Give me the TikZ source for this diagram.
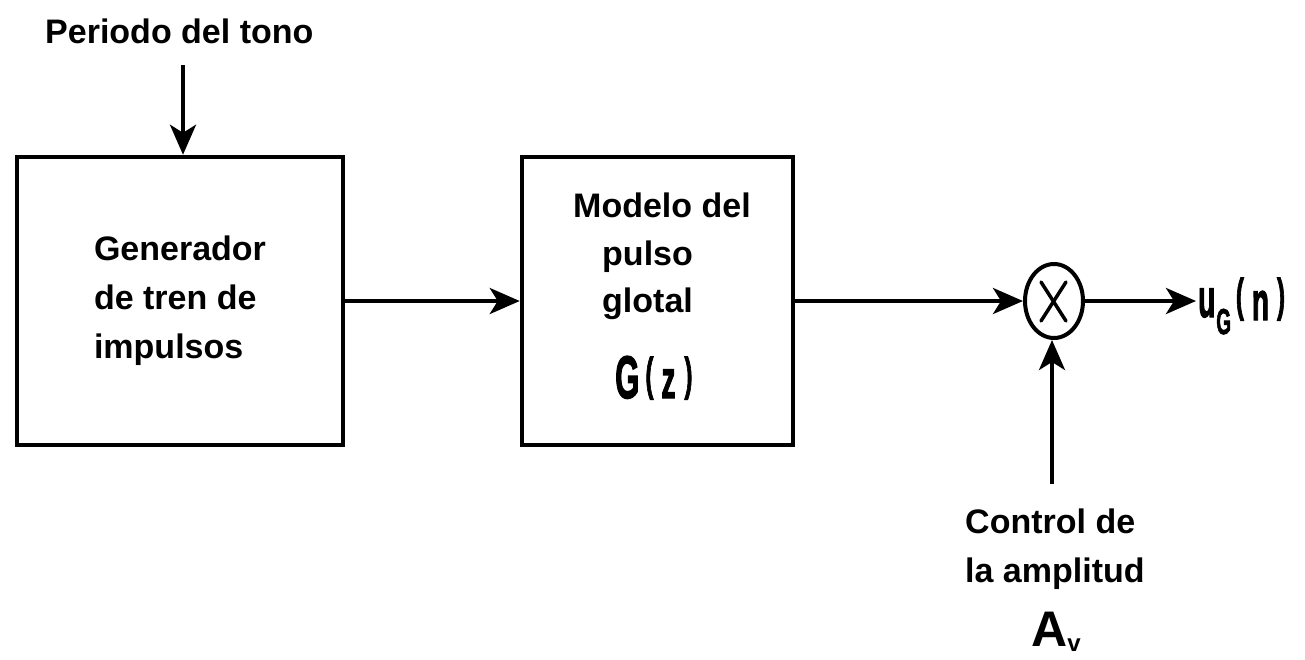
\documentclass[tikz,border=0pt]{standalone}
\usepackage{fontspec}
\setmainfont{Liberation Sans}
\newfontfamily\gzf{Liberation Sans Bold}[FakeBold=2.5]
\usepackage{graphicx}
\usetikzlibrary{arrows.meta,shapes.geometric}
\newcommand{\gx}[2]{\scalebox{0.52}[1]{\fontsize{#1}{#1}\selectfont\gzf #2}}
\begin{document}
\begin{tikzpicture}[x=1pt,y=-1pt,
  blk/.style={draw,line width=4.5pt,rectangle,inner sep=0pt},
  lbl/.style={font=\fontsize{34}{49}\selectfont\bfseries,inner sep=0pt},
  arr/.style={line width=4pt,-{Stealth[length=30pt,width=26pt,inset=8pt]}}]
\path[use as bounding box] (0,0) rectangle (1305,659);

% boxes
\node[blk,minimum width=326pt,minimum height=288pt,lbl,align=left] (box1) at (180,301)
  {Generador\\de tren de\\impulsos};
\node[blk,minimum width=271pt,minimum height=288pt] (box2) at (657.5,301) {};
\node[draw,line width=4pt,ellipse,minimum width=58pt,minimum height=74pt,inner sep=0pt] (mult) at (1054,301) {};
\draw[line width=3.5pt,line cap=round] ([shift={(-13,-19)}]mult.center) -- ([shift={(12,20)}]mult.center);
\draw[line width=3.5pt,line cap=round] ([shift={(12,-19)}]mult.center) -- ([shift={(-13,20)}]mult.center);

% texts
\node[lbl,anchor=base west] (per) at (45,43) {Periodo del tono};
\node[lbl,anchor=base west] (mod) at (573,217) {Modelo del};
\node[lbl,anchor=base west] (pul) at (602,265) {pulso};
\node[lbl,anchor=base west] (glo) at (602,312) {glotal};
\node[inner sep=0pt,anchor=base west] (gz) at (615,398)
  {\gx{60}{G}\hspace{6pt}\raisebox{8pt}{\gx{46}{(}}\hspace{8pt}\gx{54}{z}\hspace{9pt}\raisebox{8pt}{\gx{46}{)}}};
\node[lbl,anchor=base west] (ctl) at (965,533) {Control de};
\node[lbl,anchor=base west] (amp) at (965,582) {la amplitud};
\node[inner sep=0pt,anchor=base west] (av) at (1031,646)
  {\fontsize{50}{50}\selectfont\bfseries A\raisebox{-5pt}{\fontsize{24}{24}\selectfont v}};
\node[inner sep=0pt,anchor=base west] (ug) at (1198,317)
  {\gx{54}{u}\hspace{1pt}\raisebox{-17pt}{\gx{36}{G}}\hspace{5pt}\raisebox{6pt}{\gx{46}{(}}\hspace{8pt}\raisebox{-3pt}{\gx{54}{n}}\hspace{8pt}\raisebox{6pt}{\gx{46}{)}}};

% connectors
\coordinate (ptop) at (183,65);
\coordinate (outp) at (1196,301);
\coordinate (cin) at (1052,484);
\draw[arr] (ptop) -- (ptop |- box1.north);
\draw[arr] (box1.east) -- (box2.west);
\draw[arr] (box2.east) -- (mult.west);
\draw[arr] (mult.east) -- (outp);
\draw[arr] (cin) -- (cin |- mult.south);
\end{tikzpicture}
\end{document}
